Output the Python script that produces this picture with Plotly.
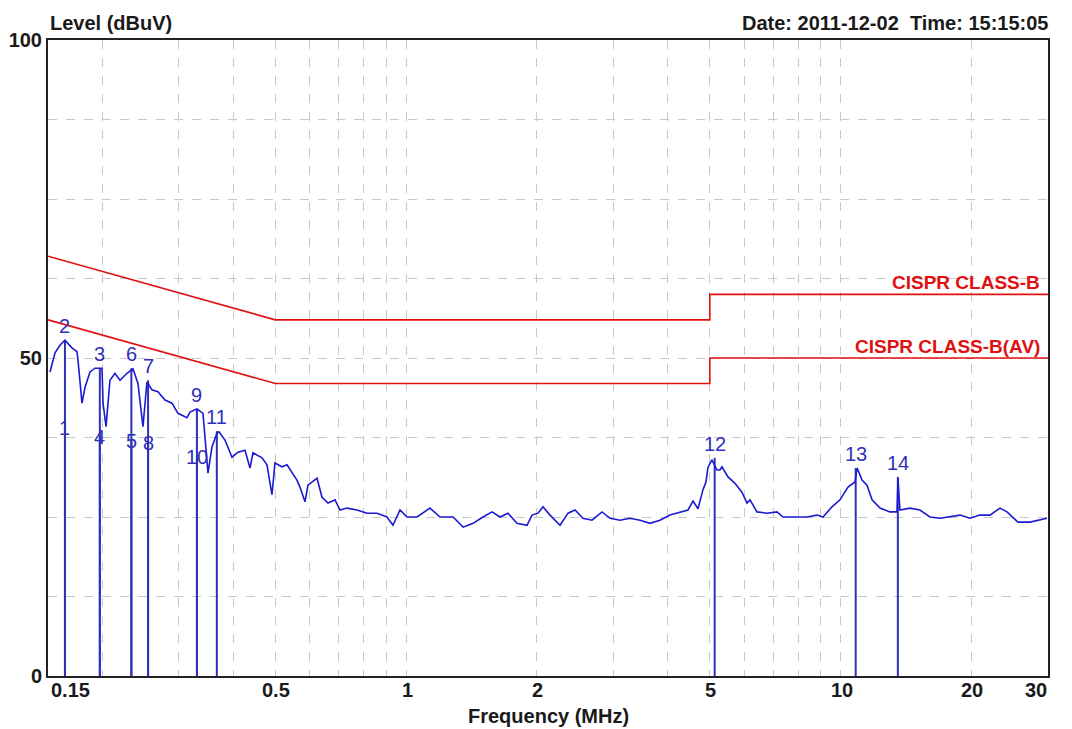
import math
import plotly.graph_objects as go

# ---- measured trace (frequency in MHz, level in dBuV) ----
freq_mhz = [
    0.1516, 0.1557, 0.1598, 0.1641, 0.1703, 0.1749, 0.1758, 0.1796, 0.1825, 0.1874,
    0.1924, 0.1997, 0.2008, 0.2040, 0.2083, 0.2139, 0.2197, 0.2279, 0.2353, 0.2416,
    0.2481, 0.2534, 0.2602, 0.2686, 0.2788, 0.2893, 0.2987, 0.3132, 0.3183, 0.3303,
    0.3410, 0.3446, 0.3501, 0.3576, 0.3672, 0.3711, 0.3831, 0.3976, 0.4104, 0.4259,
    0.4374, 0.4444, 0.4661, 0.4786, 0.4914, 0.4993, 0.5182, 0.5321, 0.5464, 0.5610,
    0.5700, 0.5853, 0.5948, 0.6239, 0.6406, 0.6613, 0.6863, 0.7047, 0.7313, 0.7711,
    0.8130, 0.8572, 0.9038, 0.9330, 0.9683, 1.0048, 1.060, 1.135, 1.197, 1.283,
    1.353, 1.426, 1.503, 1.577, 1.645, 1.716, 1.800, 1.898, 1.949, 2.012,
    2.066, 2.144, 2.261, 2.359, 2.448, 2.553, 2.678, 2.824, 2.947, 3.108,
    3.276, 3.455, 3.642, 3.840, 4.048, 4.269, 4.454, 4.574, 4.696, 4.822,
    4.899, 4.951, 5.057, 5.138, 5.193, 5.276, 5.332, 5.505, 5.712, 5.928,
    6.087, 6.186, 6.419, 6.768, 7.137, 7.367, 7.768, 8.367, 8.822, 9.107,
    9.552, 9.965, 10.40, 10.79, 10.91, 11.20, 11.50, 11.81, 12.32, 12.99,
    13.48, 13.55, 13.69, 14.44, 15.22, 16.05, 16.93, 17.85, 18.82, 19.84,
    20.92, 22.06, 23.26, 24.14, 24.92, 25.59, 27.27, 28.75, 29.84,
]
level_dbuv = [
    47.8, 50.8, 52.0, 52.8, 51.6, 51.0, 49.7, 42.9, 45.4, 47.8,
    48.4, 48.4, 42.9, 39.2, 46.5, 47.6, 46.5, 47.6, 48.3, 46.0,
    39.2, 46.2, 45.0, 44.7, 43.4, 42.9, 41.3, 40.6, 41.5, 42.0,
    41.3, 37.1, 31.9, 36.0, 38.2, 38.4, 37.1, 34.4, 35.2, 35.5,
    32.7, 35.1, 34.3, 33.2, 28.5, 33.5, 32.9, 33.2, 31.9, 30.8,
    29.7, 27.4, 30.0, 31.1, 28.1, 27.2, 27.7, 26.1, 26.4, 26.1,
    25.6, 25.6, 25.0, 23.7, 26.1, 25.0, 25.0, 26.4, 25.0, 25.0,
    23.4, 24.0, 25.0, 25.8, 25.0, 25.6, 24.0, 23.7, 25.3, 25.6,
    26.6, 25.3, 23.7, 25.6, 26.1, 24.8, 24.5, 25.8, 24.8, 24.5,
    24.8, 24.5, 24.0, 24.5, 25.3, 25.8, 26.1, 27.5, 26.3, 29.3,
    30.5, 32.8, 34.0, 33.0, 32.4, 32.4, 32.9, 31.3, 30.3, 28.9,
    27.2, 27.7, 25.8, 25.6, 25.8, 25.0, 25.0, 25.0, 25.3, 25.0,
    26.6, 27.7, 29.7, 30.5, 32.7, 30.8, 30.0, 27.7, 26.4, 25.8,
    25.8, 31.1, 26.1, 26.4, 26.1, 25.0, 24.8, 25.0, 25.3, 24.8,
    25.3, 25.3, 26.4, 25.8, 25.0, 24.2, 24.2, 24.5, 24.8,
]

# ---- CISPR class B limits ----
limit_freq = [0.15, 0.5, 5, 5, 30]
limit_qp = [66, 56, 56, 60, 60]
limit_av = [56, 46, 46, 50, 50]

# ---- markers ----
marker_no = ["1", "2", "3", "4", "5", "6", "7", "8", "9", "10", "11", "12", "13", "14"]
marker_freq = [0.1641, 0.1641, 0.1974, 0.1974, 0.2333, 0.2333, 0.2549, 0.2549,
               0.3302, 0.3302, 0.3669, 5.13, 10.83, 13.54]
marker_level = [39.0, 52.8, 48.4, 37.6, 37.0, 48.4, 46.5, 36.6,
                42.0, 34.4, 38.5, 34.3, 32.7, 31.3]
marker_is_av = [True, False, False, True, True, False, False, True,
                False, True, False, False, False, False]

# ---- axis ticks ----
x_tick_vals = [0.15, 0.5, 1, 2, 5, 10, 20, 30]
x_tick_text = ["0.15", "0.5", "1", "2", "5", "10", "20", "30"]
x_minor_grid = [0.2, 0.3, 0.4, 0.6, 0.7, 0.8, 0.9, 3, 4, 6, 7, 8, 9]
y_tick_vals = [0, 50, 100]
y_tick_text = ["0", "50", "100"]
y_minor_grid = [12.5, 25, 37.5, 62.5, 75, 87.5]

BLUE = "#1a1ad2"
MBLUE = "#3030b8"
RED = "#e01010"
TXT = "#1a1a1a"
FONT = "Liberation Sans, Arial, sans-serif"

fig = go.Figure()

# marker stems
sx, sy = [], []
for f, lv in zip(marker_freq, marker_level):
    sx += [f, f, None]
    sy += [0, lv, None]
fig.add_trace(go.Scatter(x=sx, y=sy, mode="lines",
                         line=dict(color=MBLUE, width=2), hoverinfo="skip"))

# limits
fig.add_trace(go.Scatter(x=limit_freq, y=limit_qp, mode="lines",
                         line=dict(color=RED, width=1.6), name="CISPR CLASS-B"))
fig.add_trace(go.Scatter(x=limit_freq, y=limit_av, mode="lines",
                         line=dict(color=RED, width=1.6), name="CISPR CLASS-B(AV)"))

# trace
fig.add_trace(go.Scatter(x=freq_mhz, y=level_dbuv, mode="lines",
                         line=dict(color=BLUE, width=1.6), name="Level"))

annotations = []
# marker labels
for n, f, lv, av in zip(marker_no, marker_freq, marker_level, marker_is_av):
    annotations.append(dict(
        x=math.log10(f), y=lv, xref="x", yref="y", text=n, showarrow=False,
        xanchor="center", yanchor="middle" if av else "bottom",
        yshift=0 if av else 1,
        font=dict(family=FONT, size=20, color=MBLUE)))

# limit labels
annotations.append(dict(x=math.log10(limit_freq[-1]), y=limit_qp[-1], xref="x", yref="y",
                        text="<b>CISPR CLASS-B</b>", showarrow=False,
                        xanchor="right", yanchor="bottom", xshift=-6, yshift=-1,
                        font=dict(family=FONT, size=19, color=RED)))
annotations.append(dict(x=math.log10(limit_freq[-1]), y=limit_av[-1], xref="x", yref="y",
                        text="<b>CISPR CLASS-B(AV)</b>", showarrow=False,
                        xanchor="right", yanchor="bottom", xshift=-6, yshift=-1,
                        font=dict(family=FONT, size=19, color=RED)))

# x tick labels (ends shifted inward as in reference)
n_ticks = len(x_tick_vals)
for i, (v, t) in enumerate(zip(x_tick_vals, x_tick_text)):
    anchor = "left" if i == 0 else ("right" if i == n_ticks - 1 else "center")
    annotations.append(dict(x=math.log10(v), y=0, xref="x", yref="paper",
                            text="<b>" + t + "</b>", showarrow=False,
                            xanchor=anchor, yanchor="top", xshift=1, yshift=-1,
                            font=dict(family=FONT, size=20, color=TXT)))

# axis title and header texts
annotations.append(dict(x=0.5, y=0, xref="paper", yref="paper", text="<b>Frequency (MHz)</b>",
                        showarrow=False, xanchor="center", yanchor="middle", yshift=-40,
                        font=dict(family=FONT, size=20, color=TXT)))
annotations.append(dict(x=0, y=1, xref="paper", yref="paper", text="<b>Level (dBuV)</b>",
                        showarrow=False, xanchor="left", yanchor="bottom", yshift=4,
                        font=dict(family=FONT, size=20, color=TXT)))
annotations.append(dict(x=1, y=1, xref="paper", yref="paper",
                        text="<b>Date: 2011-12-02&nbsp;&nbsp;Time: 15:15:05</b>",
                        showarrow=False, xanchor="right", yanchor="bottom", yshift=4, xshift=2,
                        font=dict(family=FONT, size=20, color=TXT)))

fig.update_layout(
    width=1056, height=721,
    margin=dict(l=40, r=16, t=32, b=53, autoexpand=False),
    paper_bgcolor="white", plot_bgcolor="white",
    showlegend=False,
    annotations=annotations,
    xaxis=dict(
        type="log", range=[math.log10(0.15), math.log10(30)],
        tickvals=x_tick_vals, showticklabels=False,
        showgrid=True, gridcolor="#c8c8c8", griddash="dash", gridwidth=1,
        minor=dict(tickvals=x_minor_grid, showgrid=True, gridcolor="#c8c8c8",
                   griddash="dash", gridwidth=1, ticks=""),
        ticks="", showline=True, linecolor="#222", linewidth=2, mirror=True,
        zeroline=False, automargin=False,
    ),
    yaxis=dict(
        range=[0, 100],
        tickvals=y_tick_vals, ticktext=["<b>" + t + "</b>" for t in y_tick_text],
        tickfont=dict(family=FONT, size=20, color=TXT),
        showgrid=True, gridcolor="#c8c8c8", griddash="dash", gridwidth=1,
        minor=dict(tickvals=y_minor_grid, showgrid=True, gridcolor="#c8c8c8",
                   griddash="dash", gridwidth=1, ticks=""),
        ticks="", showline=True, linecolor="#222", linewidth=2, mirror=True,
        zeroline=False, ticklabelstandoff=0, automargin=False,
    ),
)

fig.write_html("out.html")
